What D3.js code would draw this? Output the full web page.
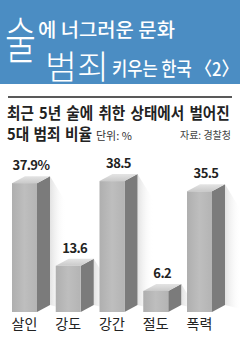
<!DOCTYPE html>
<html>
<head>
<meta charset="utf-8">
<script src="https://cdn.jsdelivr.net/npm/d3@7"></script>
<style>
  body { margin: 0; background: #fff; }
  svg { display: block; }
  text { font-family: "Noto Sans CJK KR", "Noto Sans", sans-serif; }
</style>
</head>
<body>
<div id="chart"></div>
<script>
const categories = ["살인", "강도", "강간", "절도", "폭력"]
const values = [37.9, 13.6, 38.5, 6.2, 35.5]
const valueLabels = ["37.9%", "13.6", "38.5", "6.2", "35.5"]

const width = 240, height = 342
const depthX = 13, depthY = 7
const baseY = 312

const svg = d3.select("#chart")
    .append("svg")
    .attr("width", width)
    .attr("height", height)

// squeeze a text horizontally so it spans `w` px, starting at x0 / baseline y0
function fitText(t, x0, y0, w, sy) {
    const len = t.node().getComputedTextLength()
    t.attr("x", 0).attr("y", 0)
        .attr("transform", `translate(${x0},${y0}) scale(${w / len},${sy || 1})`)
    return t
}

// gradients
const defs = svg.append("defs")
const frontGrad = defs.append("linearGradient").attr("id", "front")
frontGrad.append("stop").attr("offset", "0%").attr("stop-color", "#afafaf")
frontGrad.append("stop").attr("offset", "50%").attr("stop-color", "#bebebe")
frontGrad.append("stop").attr("offset", "100%").attr("stop-color", "#b4b4b4")
const topGrad = defs.append("linearGradient").attr("id", "top")
    .attr("x1", "0%").attr("y1", "100%").attr("x2", "0%").attr("y2", "0%")
topGrad.append("stop").attr("offset", "0%").attr("stop-color", "#cacaca")
topGrad.append("stop").attr("offset", "100%").attr("stop-color", "#e4e4e4")
const shadowGrad = defs.append("linearGradient").attr("id", "shadow")
shadowGrad.append("stop").attr("offset", "0%").attr("stop-color", "#e2e2e2")
shadowGrad.append("stop").attr("offset", "100%").attr("stop-color", "#ffffff").attr("stop-opacity", 0)

// header
const header = svg.append("g")
header.append("rect")
    .attr("width", width)
    .attr("height", 84)
    .attr("fill", "#4b8dc3")

fitText(header.append("text")
    .attr("fill", "#fff")
    .attr("font-size", 36)
    .attr("font-weight", 300)
    .text("술"), 5, 59, 31, 1.4)
fitText(header.append("text")
    .attr("fill", "#fff")
    .attr("font-size", 19)
    .attr("font-weight", 500)
    .text("에 너그러운 문화"), 38, 37, 137)
fitText(header.append("text")
    .attr("fill", "#fff")
    .attr("font-size", 33)
    .attr("font-weight", 300)
    .text("범죄"), 45, 79, 64)
fitText(header.append("text")
    .attr("fill", "#fff")
    .attr("font-size", 19)
    .attr("font-weight", 500)
    .text("키우는 한국 〈2〉"), 112, 76, 126)

// title
svg.append("line")
    .attr("x1", 8).attr("x2", 232)
    .attr("y1", 97).attr("y2", 97)
    .attr("stroke", "#222")
    .attr("stroke-width", 1.5)
fitText(svg.append("text")
    .attr("font-size", 15.5)
    .attr("font-weight", 700)
    .attr("fill", "#222")
    .attr("word-spacing", 2)
    .text("최근 5년 술에 취한 상태에서 벌어진"), 7, 119, 223)
fitText(svg.append("text")
    .attr("font-size", 15.5)
    .attr("font-weight", 700)
    .attr("fill", "#222")
    .attr("word-spacing", 1)
    .text("5대 범죄 비율"), 7, 140, 85)
svg.append("text")
    .attr("x", 96).attr("y", 140)
    .attr("font-size", 11)
    .attr("fill", "#333")
    .text("단위: %")
svg.append("text")
    .attr("x", 231).attr("y", 139)
    .attr("text-anchor", "end")
    .attr("font-size", 10)
    .attr("fill", "#444")
    .text("자료: 경찰청")

// scales
const x = d3.scaleBand()
    .domain(categories)
    .range([12, 212])
    .paddingInner(0.4286)
    .paddingOuter(0)

const y = d3.scaleLinear()
    .domain([0, 40])
    .range([baseY, 176])

const bw = x.bandwidth()
const data = categories.map((c, i) => ({ cat: c, value: values[i], label: valueLabels[i] }))

const bars = svg.append("g")
    .selectAll("g")
    .data(data)
    .join("g")

// soft shadow
bars.append("path")
    .attr("d", d => {
        const x0 = x(d.cat) + bw + depthX, t = y(d.value) - depthY
        return `M${x0},${t} L${x0 + 16},${t + 26} L${x0 + 16},${baseY - depthY + 4} L${x0},${baseY - depthY}Z`
    })
    .attr("fill", "url(#shadow)")

// side face
bars.append("path")
    .attr("d", d => {
        const x0 = x(d.cat) + bw, t = y(d.value)
        return `M${x0},${t} L${x0 + depthX},${t - depthY} L${x0 + depthX},${baseY - depthY} L${x0},${baseY}Z`
    })
    .attr("fill", "#7b7b7b")

// top face
bars.append("path")
    .attr("d", d => {
        const x0 = x(d.cat), t = y(d.value)
        return `M${x0},${t} L${x0 + bw},${t} L${x0 + bw + depthX},${t - depthY} L${x0 + depthX},${t - depthY}Z`
    })
    .attr("fill", "url(#top)")

// front face
bars.append("rect")
    .attr("x", d => x(d.cat))
    .attr("y", d => y(d.value))
    .attr("width", bw)
    .attr("height", d => baseY - y(d.value))
    .attr("fill", "url(#front)")

// value labels
bars.append("text")
    .attr("x", d => x(d.cat) + (bw + depthX) / 2)
    .attr("y", d => y(d.value) - depthY - 6)
    .attr("text-anchor", "middle")
    .attr("font-size", 13)
    .attr("font-weight", 700)
    .attr("fill", "#222")
    .attr("letter-spacing", -0.6)
    .text(d => d.label)

// category labels
bars.append("text")
    .attr("x", d => x(d.cat) + bw / 2)
    .attr("y", 329)
    .attr("text-anchor", "middle")
    .attr("font-size", 14)
    .attr("fill", "#222")
    .text(d => d.cat)
</script>
</body>
</html>
